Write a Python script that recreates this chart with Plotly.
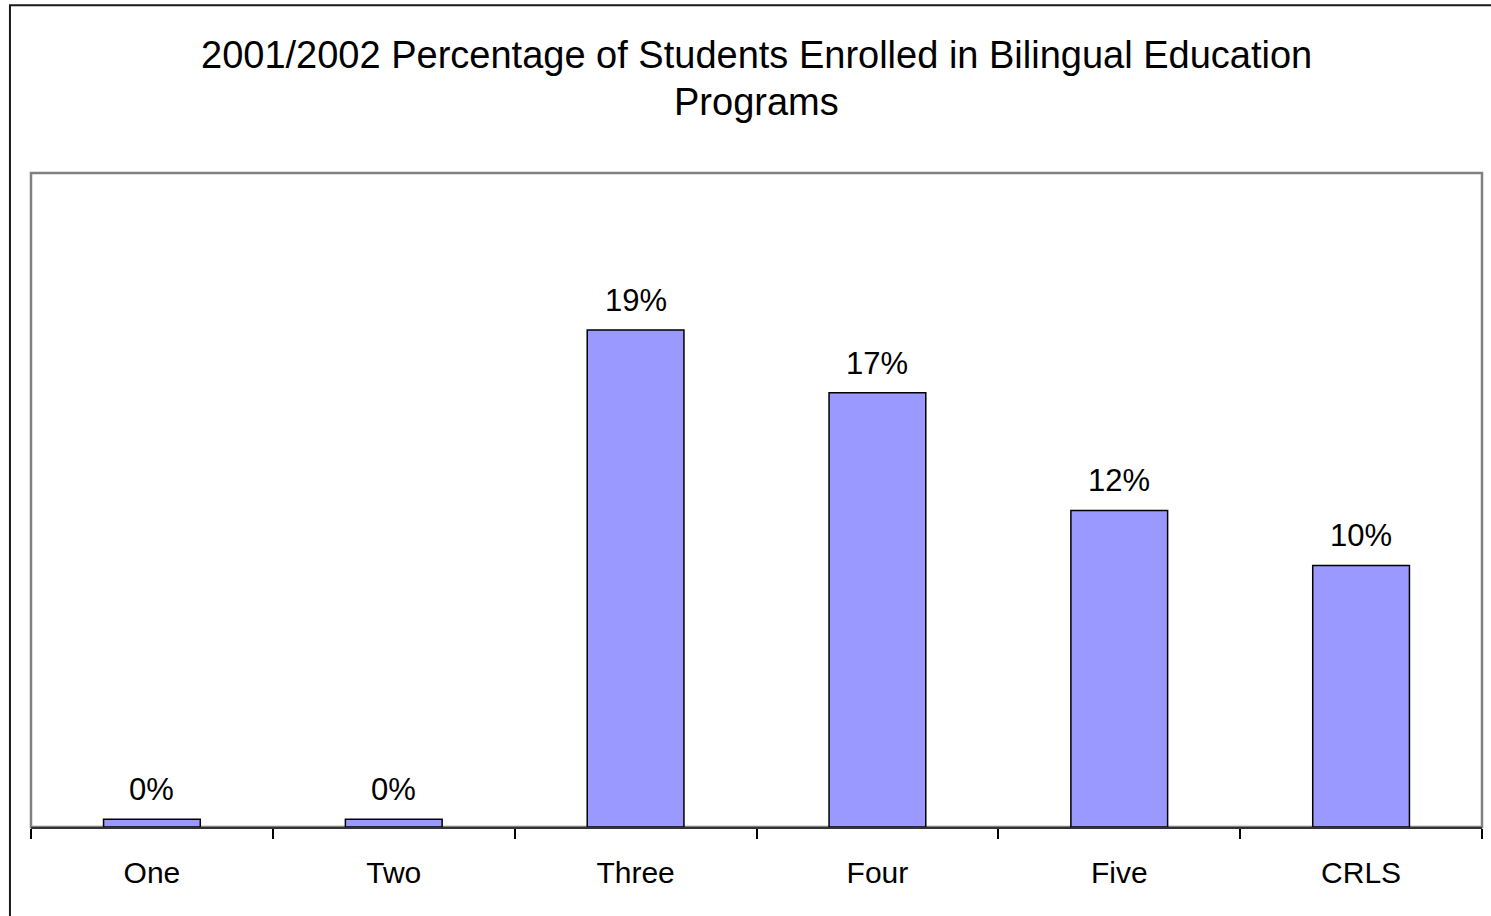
import plotly.graph_objects as go

# Enrollment share by school group, 2001/2002
categories = ["One", "Two", "Three", "Four", "Five", "CRLS"]
percent_enrolled = [0.3, 0.3, 19.0, 16.6, 12.1, 10.0]
value_labels = [f"{v:.0f}%" for v in percent_enrolled]

title_lines = [
    "2001/2002 Percentage of Students Enrolled in Bilingual Education",
    "Programs",
]

FONT = "Liberation Sans, Arial, sans-serif"
PLOT_TOP, PLOT_BOTTOM = 173, 827  # pixel rows of the plot area

fig = go.Figure(
    go.Bar(
        x=categories,
        y=percent_enrolled,
        marker=dict(color="#9999FF", line=dict(color="#000000", width=1.5)),
        hoverinfo="x+y",
    )
)

# Value labels above each bar
for cat, val, lab in zip(categories, percent_enrolled, value_labels):
    fig.add_annotation(
        x=cat, y=val, text=lab, showarrow=False,
        xref="x", yref="y", yanchor="bottom", yshift=10,
        font=dict(family=FONT, size=31, color="#000000"),
    )

# Two-line chart title, centred over the plot area
def paper_y(px):
    return (PLOT_BOTTOM - px) / (PLOT_BOTTOM - PLOT_TOP)

for line, centre_px in zip(title_lines, [55, 102]):
    fig.add_annotation(
        x=0.5, y=paper_y(centre_px), xref="paper", yref="paper",
        xanchor="center", yanchor="middle", text=line, showarrow=False,
        font=dict(family=FONT, size=38, color="#000000"),
    )

# Plot-area frame
fig.add_shape(
    type="rect", xref="paper", yref="paper", x0=0, x1=1, y0=0, y1=1,
    line=dict(color="#808080", width=2.5), layer="below",
)

# Outer chart frame (top and left edges visible)
fig.add_shape(
    type="path", xref="paper", yref="paper",
    path="M -0.0145,-0.2 L -0.0145,1.2565 L 1.02,1.2565",
    line=dict(color="#1a1a1a", width=2),
)

fig.update_layout(
    width=1491, height=916,
    margin=dict(l=31, r=9, t=PLOT_TOP, b=916 - PLOT_BOTTOM, pad=0),
    paper_bgcolor="#FFFFFF", plot_bgcolor="#FFFFFF",
    bargap=0.6,
    showlegend=False,
    font=dict(family=FONT, color="#000000"),
    xaxis=dict(
        type="category",
        showline=True, linecolor="#333333", linewidth=2,
        ticks="outside", ticklen=10, tickwidth=1.5, tickcolor="#000000",
        tickson="boundaries",
        ticklabelstandoff=18,
        tickfont=dict(family=FONT, size=30, color="#000000"),
        showgrid=False, zeroline=False,
        fixedrange=True,
    ),
    yaxis=dict(
        range=[0, 25], visible=False, showgrid=False, zeroline=False,
        fixedrange=True,
    ),
)

fig.write_html("out.html")
